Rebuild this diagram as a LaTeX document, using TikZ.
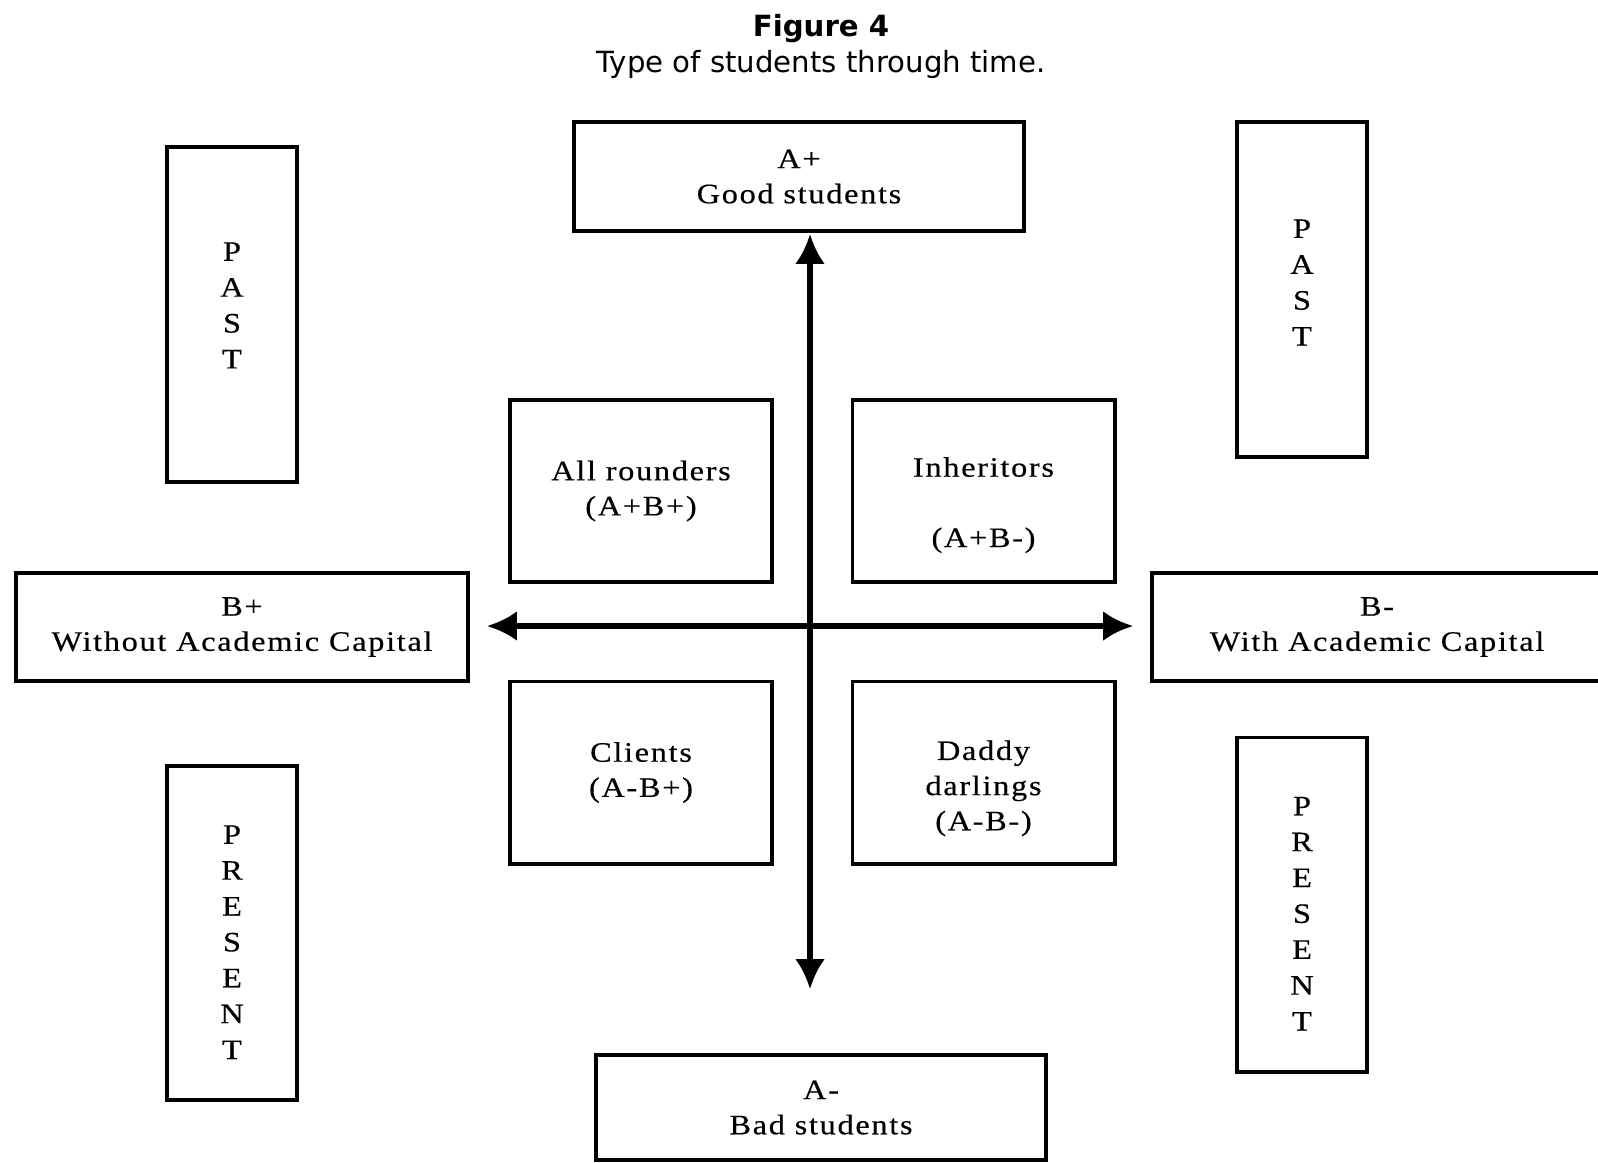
\documentclass[tikz,border=0pt]{standalone}
\usepackage{fontspec}
\setmainfont{Liberation Serif}
\newfontfamily\boxfont[FakeStretch=1.15,LetterSpace=6,FakeBold=0.4]{Liberation Serif}
\newfontfamily\titlefont{DejaVu Sans}
\usetikzlibrary{arrows.meta}

\begin{document}
\begin{tikzpicture}[x=0.01cm,y=-0.01cm,
  boxtext/.style={align=center,inner sep=0pt,font=\boxfont\fontsize{8}{10}\selectfont},
  box/.style={draw,line width=1.1pt,boxtext},
  timebox/.style={box,minimum width=1.3cm,minimum height=3.34cm},
  timetext/.style={boxtext,font=\boxfont\fontsize{8}{10.2}\selectfont},
  typebox/.style={box,minimum width=2.62cm,minimum height=1.82cm},
  axisline/.style={line width=1.5pt,
    {Latex[length=8.5pt,width=8.5pt]}-{Latex[length=8.5pt,width=8.5pt]}}]
\useasboundingbox (0,0) rectangle (1598,1162);
%title
\node[font=\titlefont\fontsize{8.3}{10}\selectfont\bfseries] (fig) at (821,29) {Figure 4};
\node[font=\titlefont\fontsize{8.3}{10}\selectfont] (cap) at (821,64) {Type of students through time.};
% poles
\node[box,minimum width=4.5cm,minimum height=1.09cm] (aplus) at (799,176.5) {A+\\Good students};
\node[box,minimum width=4.5cm,minimum height=1.05cm] (aminus) at (821,1107.5) {A-\\Bad students};
\node[box,minimum width=4.52cm,minimum height=1.08cm] (bplus) at (242,627) {B+\\Without Academic Capital};
\node[box,minimum width=4.5cm,minimum height=1.08cm] (bminus) at (1377,627) {B-\\With Academic Capital};
% past and present
\node[timebox,label={[timetext,yshift=2.6pt]center:P\\A\\S\\T}] (pastl) at (232,314.5) {};
\node[timebox,label={[timetext,yshift=2pt]center:P\\A\\S\\T}] (pastr) at (1302,289.5) {};
\node[timebox,label={[timetext,yshift=-2.6pt]center:P\\R\\E\\S\\E\\N\\T}] (presl) at (232,933) {};
\node[timebox,label={[timetext,yshift=-2.6pt]center:P\\R\\E\\S\\E\\N\\T}] (presr) at (1302,904.5) {};
% types of students
\node[typebox] (allr) at (641,491) {All rounders\\(A+B+)};
\node[typebox,label={[boxtext,yshift=-4pt]center:Inheritors\\[10pt](A+B-)}] (inher) at (983.5,491) {};
\node[typebox] (clients) at (641,772.5) {Clients\\(A-B+)};
\node[typebox,label={[boxtext,yshift=-4.5pt]center:Daddy\\darlings\\(A-B-)}] (daddy) at (983.5,772.5) {};
% axes
\coordinate (vtop) at (810,234);
\coordinate (vbot) at (810,989);
\coordinate (hleft) at (487,626);
\coordinate (hright) at (1133,626);
\draw[axisline] (vtop) -- (vbot);
\draw[axisline] (hleft) -- (hright);
\end{tikzpicture}
\end{document}
